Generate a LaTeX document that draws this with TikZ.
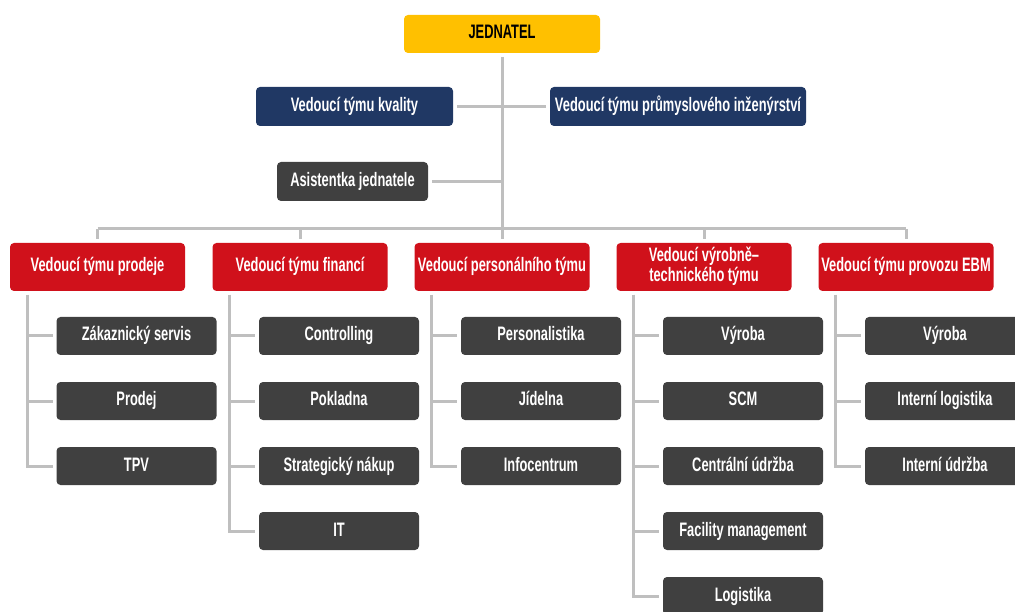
\documentclass[tikz,border=0pt]{standalone}
\usepackage{fontspec}
\newfontfamily\boxfont[FakeStretch=0.66]{Liberation Sans}
\definecolor{jedyellow}{HTML}{FFC000}
\definecolor{teamnavy}{HTML}{203864}
\definecolor{leadred}{HTML}{D0111B}
\definecolor{unitgray}{HTML}{404040}
\definecolor{linegray}{HTML}{BFBFBF}
\tikzset{
  orgbox/.style={rounded corners=4pt, inner sep=0pt, outer sep=4pt, align=center,
    text=white, font=\boxfont\bfseries\fontsize{19.5}{20}\selectfont},
  oneline/.style={text height=14pt, text depth=4pt},
  twoline/.style={text height=34pt, text depth=4pt},
  topbox/.style={orgbox, oneline, fill=jedyellow, text=black, minimum width=196, minimum height=38},
  navybox/.style={orgbox, oneline, fill=teamnavy, minimum height=39},
  leadbox/.style={orgbox, fill=leadred, minimum width=175, minimum height=48},
  unitbox/.style={orgbox, oneline, fill=unitgray, minimum width=160, minimum height=38},
  orgline/.style={draw=linegray, line width=3pt}
}
\begin{document}
\begin{tikzpicture}[x=1pt, y=-1pt]
                \useasboundingbox (0,0) rectangle (1015,612);
                \clip (0,0) rectangle (1015,612);
                % Top of the chart
                \node[topbox] (jed) at (502,34) {JEDNATEL};
                \node[navybox, minimum width=197] (kval) at (354.5,106.5) {Vedoucí týmu kvality};
                \node[navybox, minimum width=256] (prum) at (678,106.5) {Vedoucí týmu průmyslového inženýrství};
                \node[unitbox, minimum width=151, minimum height=39] (asist) at (352.5,181.5) {Asistentka jednatele};
                \coordinate (bus) at (502,229);
                \draw[orgline] (jed.south) -- (jed.south |- bus);
                \draw[orgline] (kval.east) -- (kval.east -| jed.south);
                \draw[orgline] (prum.west) -- (prum.west -| jed.south);
                \draw[orgline] (asist.east) -- (asist.east -| jed.south);
                % Team leaders
                \foreach \i/\x/\lines/\name in {1/97.5/oneline/{Vedoucí týmu prodeje},
                    2/300/oneline/{Vedoucí týmu financí},
                    3/502/oneline/{Vedoucí personálního týmu},
                    4/704/twoline/{Vedoucí výrobně–\\technického týmu},
                    5/906/oneline/{Vedoucí týmu provozu EBM}}
                    \node[leadbox, \lines] (lead\i) at (\x,267) {\name};
                \draw[orgline] (lead1.north |- bus) -- (lead5.north |- bus);
                \foreach \i in {1,...,5}
                    \draw[orgline] (lead\i.north |- bus) -- (lead\i.north);
                % Units under each leader
                \foreach \i/\units in {1/{Zákaznický servis,Prodej,TPV},
                    2/{Controlling,Pokladna,Strategický nákup,IT},
                    3/{Personalistika,Jídelna,Infocentrum},
                    4/{Výroba,SCM,Centrální údržba,Facility management,Logistika},
                    5/{Výroba,Interní logistika,Interní údržba}} {
                    \coordinate (trunk\i) at ([xshift=21]lead\i.south west);
                    \foreach \u [count=\j] in \units {
                        \node[unitbox] (unit\i-\j) at ([xshift=39]lead\i.south |- 0,271+65*\j) {\u};
                        \draw[orgline] (trunk\i) |- (unit\i-\j.west);
                    }
                }
\end{tikzpicture}
\end{document}
